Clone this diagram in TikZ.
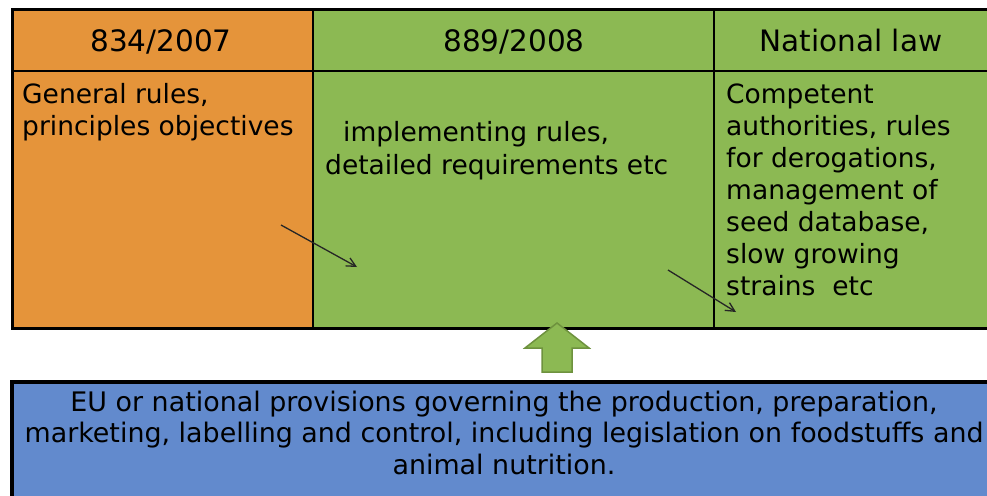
\documentclass[tikz,border=0pt]{standalone}
\usepackage{fontspec}
\setmainfont{DejaVu Sans}
\usetikzlibrary{arrows.meta}
\definecolor{regorange}{RGB}{229,148,58}
\definecolor{reggreen}{RGB}{140,185,83}
\definecolor{regblue}{RGB}{98,138,205}
\definecolor{arrowedge}{RGB}{110,146,62}
\tikzset{
  headtxt/.style={anchor=base, inner sep=0pt, font=\fontsize{29.5}{31.5}\selectfont},
  bodytxt/.style={anchor=base west, inner sep=0pt, align=left, font=\fontsize{26.5}{31.7}\selectfont},
  boxtxt/.style={anchor=base, inner sep=0pt, align=center, font=\fontsize{26.9}{31.5}\selectfont},
  pointer/.style={draw=black!85, line width=1.3pt, -{Straight Barb[length=9pt,width=9pt]}},
  rule/.style={draw=black, line width=2pt},
}
\begin{document}
\begin{tikzpicture}[x=1pt,y=-1pt]
\useasboundingbox (0,0) rectangle (987,495);
\clip (0,0) rectangle (987,495);
\fill[white] (0,0) rectangle (987,495);

% table body
\fill[regorange] (12.5,10) rectangle (313,328);
\fill[reggreen] (313,10) rectangle (1000,328);
\draw[rule] (12.5,71) -- (1000,71);
\draw[rule] (313,10) -- (313,328);
\draw[rule] (714,10) -- (714,328);
\draw[black, line width=3pt] (1000,10) -- (12.5,10) -- (12.5,328) -- (1000,328);

% headings
\node[headtxt] (h1) at (161,52) {834/2007};
\node[headtxt] (h2) at (514,52) {889/2008};
\node[headtxt] (h3) at (851,52) {National law};

% column contents (anchored on the baseline of the last line)
\node[bodytxt] (c1) at (22,135) {General rules,\\principles objectives};
\node[bodytxt] (c2a) at (343,141.7) {implementing rules,};
\node[bodytxt] (c2b) at (325,174) {detailed requirements etc};
\node[bodytxt, font=\fontsize{26.5}{32}\selectfont] (c3) at (726,295) {Competent\\authorities, rules\\for derogations,\\management of\\seed database,\\slow growing\\strains\ \ etc};

% small pointers
\coordinate (p1s) at (281,225);
\coordinate (p1e) at (357,267);
\coordinate (p2s) at (668,270);
\coordinate (p2e) at (736,312);
\draw[pointer] (p1s) -- (p1e);
\draw[pointer] (p2s) -- (p2e);

% bottom box
\draw[fill=regblue, draw=black, line width=3.5pt] (12,382) rectangle (1000,520);
\node[boxtxt] (b) at (504,474) {EU or national provisions governing the production, preparation,\\marketing, labelling and control, including legislation on foodstuffs and\\animal nutrition.};

% up arrow
\draw[fill=reggreen, draw=arrowedge, line width=1.5pt, line join=miter]
  (557,323) -- (589,348) -- (572,348) -- (572,372) -- (542,372) -- (542,348) -- (525,348) -- cycle;
\end{tikzpicture}
\end{document}
